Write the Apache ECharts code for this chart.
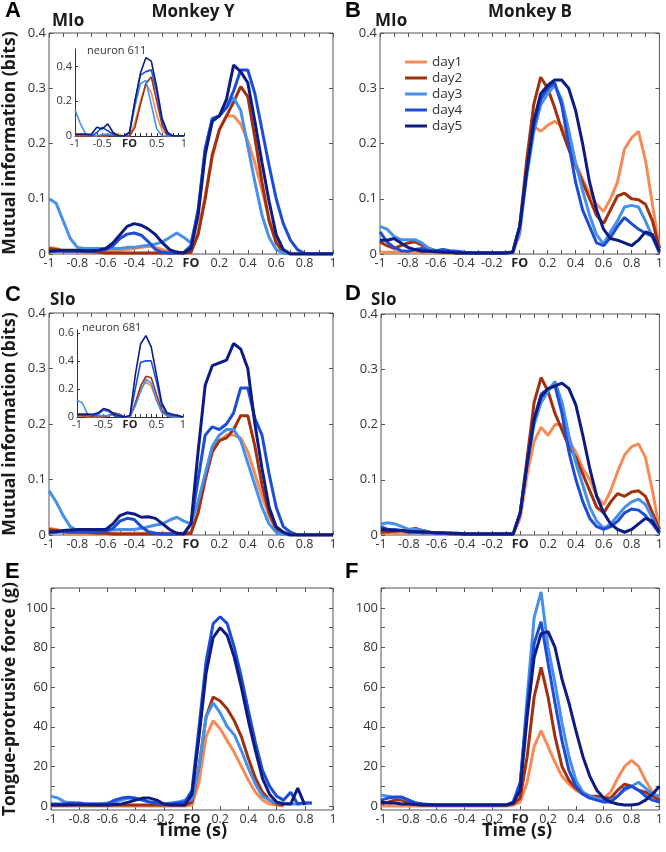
<!DOCTYPE html>
<html><head><meta charset="utf-8">
<script src="https://cdn.jsdelivr.net/npm/echarts@6/dist/echarts.min.js"></script>
<style>html,body{margin:0;padding:0;background:#fff;}#c{width:666px;height:852px;}</style>
</head><body><div id="c"></div>
<script>
// ---- time axes ----
const T = [-1,-0.95,-0.9,-0.85,-0.8,-0.75,-0.7,-0.65,-0.6,-0.55,-0.5,-0.45,-0.4,-0.35,-0.3,-0.25,-0.2,-0.15,-0.1,-0.05,0,0.05,0.1,0.15,0.2,0.25,0.3,0.35,0.4,0.45,0.5,0.55,0.6,0.65,0.7,0.75,0.8,0.85,0.9,0.95,1];
const TI = [-1,-0.9,-0.8,-0.7,-0.6,-0.5,-0.4,-0.3,-0.2,-0.1,0,0.1,0.2,0.3,0.4,0.5,0.6,0.7,0.8,0.9,1];
const DAYS = ['day1','day2','day3','day4','day5'];
const X_TICK_LABELS = [-1,-0.8,-0.6,-0.4,-0.2,0,0.2,0.4,0.6,0.8,1];
const MI_TICK_LABELS = [0,0.1,0.2,0.3,0.4];
const FORCE_TICK_LABELS = [0,20,40,60,80,100];
const INSET_X_LABELS = [-1,-0.5,0,0.5,1];

// ---- Panel A: MIo, Monkey Y ----
const A_day1 = [0.012,0.01,0.006,0.004,0.004,0.004,0.004,0.004,0.005,0.006,0.007,0.008,0.01,0.012,0.014,0.012,0.008,0.004,0.002,0.002,0.006,0.04,0.105,0.175,0.225,0.25,0.25,0.235,0.205,0.165,0.115,0.065,0.025,0.006,0.001,0,0,0,0,0,0];
const A_day2 = [0.01,0.008,0.006,0.006,0.005,0.004,0.004,0.003,0.002,0.002,0.002,0.002,0.002,0.002,0.002,0.002,0.002,0.002,0.002,0.002,0.003,0.035,0.1,0.18,0.225,0.25,0.275,0.303,0.285,0.21,0.13,0.06,0.02,0.003,0,0,0,0,0,0,0];
const A_day3 = [0.1,0.092,0.06,0.028,0.012,0.01,0.01,0.01,0.01,0.01,0.01,0.012,0.012,0.014,0.016,0.018,0.022,0.03,0.038,0.03,0.02,0.075,0.19,0.245,0.25,0.265,0.283,0.26,0.195,0.13,0.07,0.03,0.008,0.002,0,0,0,0,0,0,0];
const A_day4 = [0.005,0.005,0.005,0.005,0.005,0.005,0.005,0.006,0.008,0.015,0.028,0.036,0.038,0.034,0.022,0.008,0.003,0.002,0.002,0.003,0.015,0.08,0.19,0.245,0.25,0.265,0.295,0.333,0.333,0.29,0.225,0.16,0.1,0.055,0.025,0.008,0.001,0,0,0,0];
const A_day5 = [0.005,0.006,0.007,0.007,0.007,0.006,0.006,0.007,0.01,0.02,0.035,0.05,0.055,0.052,0.045,0.035,0.02,0.008,0.003,0.002,0.01,0.07,0.18,0.24,0.25,0.28,0.342,0.33,0.31,0.24,0.165,0.095,0.035,0.008,0,0,0,0,0,0,0];
// ---- Panel B: MIo, Monkey B ----
const B_day1 = [0.003,0.003,0.003,0.003,0.003,0.003,0.003,0.003,0.003,0.002,0.002,0.002,0.002,0.002,0.002,0.002,0.002,0.002,0.002,0.003,0.035,0.15,0.232,0.222,0.233,0.24,0.232,0.2,0.165,0.135,0.11,0.09,0.077,0.1,0.13,0.19,0.21,0.222,0.17,0.09,0.01];
const B_day2 = [0.022,0.015,0.01,0.015,0.02,0.022,0.016,0.01,0.006,0.004,0.003,0.002,0.002,0.002,0.002,0.002,0.002,0.002,0.002,0.004,0.05,0.17,0.27,0.32,0.3,0.265,0.225,0.19,0.16,0.13,0.1,0.07,0.055,0.08,0.105,0.11,0.1,0.098,0.09,0.06,0.01];
const B_day3 = [0.05,0.045,0.032,0.026,0.026,0.026,0.02,0.01,0.006,0.005,0.004,0.003,0.002,0.002,0.002,0.002,0.002,0.002,0.002,0.003,0.04,0.14,0.22,0.27,0.29,0.305,0.28,0.225,0.165,0.115,0.07,0.035,0.018,0.04,0.06,0.085,0.088,0.085,0.06,0.03,0.005];
const B_day4 = [0.04,0.022,0.012,0.006,0.005,0.008,0.01,0.006,0.006,0.008,0.006,0.005,0.003,0.002,0.002,0.002,0.002,0.002,0.002,0.003,0.05,0.15,0.23,0.28,0.3,0.31,0.27,0.2,0.13,0.08,0.05,0.02,0.015,0.03,0.05,0.066,0.055,0.045,0.038,0.032,0.002];
const B_day5 = [0.025,0.025,0.028,0.02,0.012,0.008,0.005,0.005,0.004,0.003,0.003,0.002,0.002,0.002,0.002,0.002,0.002,0.002,0.002,0.003,0.05,0.15,0.24,0.29,0.305,0.315,0.315,0.3,0.26,0.2,0.13,0.08,0.045,0.028,0.025,0.02,0.015,0.025,0.04,0.035,0.005];
// ---- Panel C: SIo, Monkey Y ----
const C_day1 = [0.012,0.01,0.006,0.004,0.003,0.003,0.003,0.003,0.003,0.003,0.003,0.003,0.003,0.003,0.003,0.003,0.003,0.003,0.003,0.003,0.005,0.04,0.1,0.15,0.17,0.18,0.18,0.175,0.15,0.11,0.07,0.035,0.01,0.002,0,0,0,0,0,0,0];
const C_day2 = [0.01,0.008,0.006,0.005,0.005,0.005,0.004,0.003,0.003,0.002,0.002,0.002,0.002,0.002,0.002,0.002,0.002,0.002,0.002,0.002,0.003,0.04,0.1,0.15,0.17,0.175,0.19,0.215,0.215,0.16,0.09,0.04,0.01,0.002,0,0,0,0,0,0,0];
const C_day3 = [0.08,0.06,0.035,0.015,0.008,0.008,0.008,0.008,0.008,0.009,0.01,0.01,0.01,0.012,0.015,0.018,0.02,0.027,0.032,0.025,0.02,0.06,0.11,0.16,0.18,0.19,0.19,0.17,0.13,0.09,0.05,0.02,0.005,0.001,0,0,0,0,0,0,0];
const C_day4 = [0.005,0.005,0.006,0.006,0.006,0.006,0.006,0.006,0.007,0.012,0.025,0.03,0.028,0.015,0.006,0.003,0.002,0.002,0.002,0.003,0.02,0.1,0.18,0.195,0.19,0.2,0.22,0.265,0.265,0.21,0.18,0.11,0.05,0.015,0.005,0,0,0,0,0,0];
const C_day5 = [0.005,0.006,0.008,0.009,0.01,0.01,0.01,0.01,0.01,0.02,0.035,0.04,0.038,0.032,0.033,0.03,0.02,0.01,0.003,0.002,0.02,0.15,0.27,0.305,0.31,0.315,0.345,0.335,0.3,0.2,0.12,0.05,0.015,0.005,0,0,0,0,0,0,0];
// ---- Panel D: SIo, Monkey B ----
const D_day1 = [0.003,0.003,0.003,0.003,0.004,0.005,0.004,0.003,0.003,0.002,0.002,0.002,0.002,0.002,0.002,0.002,0.002,0.002,0.002,0.002,0.03,0.11,0.17,0.195,0.18,0.2,0.2,0.17,0.15,0.12,0.1,0.07,0.055,0.08,0.115,0.145,0.16,0.165,0.14,0.08,0.01];
const D_day2 = [0.005,0.006,0.007,0.008,0.01,0.012,0.008,0.005,0.004,0.003,0.002,0.002,0.002,0.002,0.002,0.002,0.002,0.002,0.002,0.002,0.04,0.14,0.24,0.285,0.26,0.22,0.19,0.16,0.14,0.11,0.08,0.05,0.04,0.06,0.075,0.07,0.078,0.08,0.07,0.04,0.01];
const D_day3 = [0.02,0.022,0.02,0.015,0.01,0.01,0.008,0.005,0.004,0.003,0.003,0.003,0.002,0.002,0.002,0.002,0.002,0.002,0.002,0.002,0.04,0.13,0.2,0.24,0.26,0.278,0.24,0.18,0.13,0.09,0.05,0.025,0.012,0.02,0.035,0.05,0.06,0.065,0.055,0.03,0.005];
const D_day4 = [0.015,0.01,0.01,0.008,0.005,0.005,0.004,0.004,0.003,0.003,0.003,0.002,0.002,0.002,0.002,0.002,0.002,0.002,0.002,0.002,0.04,0.13,0.21,0.255,0.265,0.27,0.22,0.15,0.1,0.06,0.03,0.015,0.01,0.015,0.025,0.04,0.047,0.045,0.035,0.02,0.003];
const D_day5 = [0.01,0.009,0.008,0.008,0.007,0.006,0.006,0.005,0.004,0.004,0.003,0.003,0.002,0.002,0.002,0.002,0.002,0.002,0.002,0.002,0.04,0.13,0.21,0.25,0.265,0.27,0.275,0.265,0.235,0.18,0.12,0.07,0.04,0.02,0.01,0.005,0.01,0.02,0.03,0.025,0.005];
// ---- Panel E: force, Monkey Y (null = no sample) ----
const E_day1 = [0,0,0,0,0,0,0,0,0,0,0,0,0,0,0,0,0,0,0,0,0.5,12,35,43,39,33,27,20,13,7,3,1,0.5,0,null,null,null,null,null,null,null];
const E_day2 = [0.5,0.5,0.5,0.8,1,0.8,0.5,0.5,0.5,0.5,0.5,0.5,0.5,0.5,0.5,0.5,0.5,0.5,0.5,0.5,2,20,45,55,53,49,43,35,24,14,7,3,1,0.5,null,null,null,null,null,null,null];
const E_day3 = [5,4,2,1.5,1,1,1,1,1.5,2,3,4,3.5,3,2,1.5,1,1.5,2,3,3,20,45,52,47,40,36,28,19,11,5,3,1.5,1.5,1,1,1.5,1.5,null,null,null];
const E_day4 = [1,1,1,1.5,1.5,1,1,1,1,3,4,4.5,4,3,2,1.5,1,1,1.5,2,8,40,73,92,95.5,92,80,65,48,32,18,10,5,3,7,1,1.5,1.5,null,null,null];
const E_day5 = [0.5,0.5,0.5,0.5,0.5,0.5,0.5,0.5,0.5,0.8,1,2,3,4,4,3,1,0.5,0.5,0.5,6,35,67,85,90,86,75,60,43,28,14,6,2,1,1,9,0.5,null,null,null,null];
// ---- Panel F: force, Monkey B ----
const F_day1 = [0,0,0,0,0,0,0,0,0,0,0,0,0,0,0,0,0,0,0,0.5,2,12,30,38,30,22,15,11,8,6,5,4,4,7,14,20,23,20,13,7,4];
const F_day2 = [1,2,3,3,1.5,0.8,0.5,0.5,0.5,0.5,0.5,0.5,0.5,0.5,0.5,0.5,0.5,0.5,0.5,1,4,25,55,70,55,35,20,13,9,6,5,5,4,4,8,11,10,8,7,5,3];
const F_day3 = [5.5,5,4.5,4,3,1.5,1,0.8,0.5,0.5,0.5,0.5,0.5,0.5,0.5,0.5,0.5,0.5,0.5,2,10,55,95,108,80,62,42,25,13,7,5,4,3,3,5,8,10,12,9,6,5];
const F_day4 = [3,4,4.5,4.5,3,1.5,1,0.8,0.5,0.5,0.5,0.5,0.5,0.5,0.5,0.5,0.5,0.5,0.5,2,12,50,82,93,72,52,33,18,10,6,4,3,2,2,5,9,10,8,5,3,2];
const F_day5 = [2,1.5,1.5,1,1,0.8,0.5,0.5,0.5,0.5,0.5,0.5,0.5,0.5,0.5,0.5,0.5,0.5,0.5,1.5,8,45,75,87,88,80,64,52,38,25,15,8,4,2,1,0.5,0.5,1,3,6,10];
// ---- Inset A: neuron 611 ----
const IA_day1 = [0,0,0,0,0,0,0,0.01,0.01,0,0,0.08,0.2,0.3,0.25,0.12,0.03,0,0,0,0];
const IA_day2 = [0,0,0,0,0,0,0,0,0,0,0,0.05,0.18,0.3,0.34,0.2,0.06,0,0,0,0];
const IA_day3 = [0.15,0.07,0.01,0,0,0.01,0.01,0.01,0,0,0.02,0.17,0.3,0.32,0.18,0.04,0,0,0,0,0];
const IA_day4 = [0.01,0.01,0.01,0,0.02,0.05,0.03,0.01,0,0,0.02,0.2,0.35,0.37,0.38,0.25,0.08,0.01,0,0,0];
const IA_day5 = [0.01,0.01,0.01,0.01,0.05,0.04,0.07,0.02,0,0,0.02,0.2,0.36,0.45,0.43,0.28,0.1,0.02,0,0,0];
// ---- Inset C: neuron 681 ----
const IC_day1 = [0.01,0.01,0,0,0,0,0.01,0.02,0.02,0,0,0.08,0.2,0.25,0.22,0.12,0.04,0.01,0,0,0];
const IC_day2 = [0.01,0.01,0.01,0,0,0,0.01,0.03,0.02,0,0,0.1,0.22,0.29,0.28,0.16,0.05,0.01,0,0,0];
const IC_day3 = [0.12,0.1,0.02,0.01,0.01,0.01,0.01,0.02,0.02,0,0,0.08,0.18,0.27,0.24,0.12,0.03,0.01,0,0,0];
const IC_day4 = [0.02,0.02,0.02,0.01,0.02,0.05,0.04,0.01,0,0,0.01,0.2,0.39,0.4,0.4,0.25,0.08,0.02,0.01,0.01,0];
const IC_day5 = [0.02,0.02,0.02,0.02,0.03,0.06,0.05,0.02,0.01,0,0.01,0.3,0.52,0.58,0.5,0.3,0.1,0.03,0.02,0.01,0];

const COLORS = ['#F58C58','#A2300F','#4690EA','#1D4DD8','#0C1C82'];
const FONT = 'Open Sans';

const PANELS = [
  {grid:{left:49,top:33,width:284,height:221}, data:[A_day1,A_day2,A_day3,A_day4,A_day5], ymin:0, ymax:0.4, yl:MI_TICK_LABELS, yt:[0,0.1,0.2,0.3,0.4], xt:0.1},
  {grid:{left:380,top:33,width:280,height:221}, data:[B_day1,B_day2,B_day3,B_day4,B_day5], ymin:0, ymax:0.4, yl:MI_TICK_LABELS, yt:[0,0.1,0.2,0.3,0.4], xt:0.1},
  {grid:{left:49,top:313,width:284,height:222}, data:[C_day1,C_day2,C_day3,C_day4,C_day5], ymin:0, ymax:0.4, yl:MI_TICK_LABELS, yt:[0,0.1,0.2,0.3,0.4], xt:0.1},
  {grid:{left:381,top:314,width:280,height:221}, data:[D_day1,D_day2,D_day3,D_day4,D_day5], ymin:0, ymax:0.4, yl:MI_TICK_LABELS, yt:[0,0.1,0.2,0.3,0.4], xt:0.1},
  {grid:{left:51,top:588,width:282,height:222}, data:[E_day1,E_day2,E_day3,E_day4,E_day5], ymin:-2, ymax:110, yl:FORCE_TICK_LABELS, yt:[0,10,20,30,40,50,60,70,80,90,100,110], xt:0.2},
  {grid:{left:381,top:588,width:280,height:222}, data:[F_day1,F_day2,F_day3,F_day4,F_day5], ymin:-2, ymax:110, yl:FORCE_TICK_LABELS, yt:[0,10,20,30,40,50,60,70,80,90,100,110], xt:0.2}
];
const INSETS = [
  {grid:{left:75,top:49,width:109,height:87}, data:[IA_day1,IA_day2,IA_day3,IA_day4,IA_day5], ymax:0.5, yl:[0,0.2,0.4]},
  {grid:{left:77,top:330,width:106,height:87}, data:[IC_day1,IC_day2,IC_day3,IC_day4,IC_day5], ymax:0.62, yl:[0,0.2,0.4,0.6]}
];

function seq(a, b, step) { const out = []; const n = Math.round((b - a) / step); for (let i = 0; i <= n; i++) out.push(Math.round((a + i * step) * 1000) / 1000); return out; }
function fmtX(v) { if (Math.abs(v) < 1e-9) return '{fo|FO}'; return String(Math.round(v * 10) / 10); }
function fmtY(v) { if (Math.abs(v) < 1e-9) return '0'; return (Math.abs(v) >= 10) ? String(Math.round(v)) : String(Math.round(v * 10) / 10); }
function pairs(xs, ys) { const out = []; xs.forEach((x, i) => { if (ys[i] !== null && ys[i] !== undefined) out.push([x, ys[i]]); }); return out; }

const grids = [], xAxes = [], yAxes = [], series = [];
const frameColor = '#555';
PANELS.forEach((p, i) => {
  grids.push(Object.assign({show:true, borderColor:frameColor, borderWidth:1, backgroundColor:'transparent'}, p.grid));
  const gi = grids.length - 1;
  const xt = seq(-1, 1, p.xt);
  xAxes.push({type:'value', gridIndex:gi, min:-1, max:1, position:'bottom',
    axisLine:{show:false, onZero:false}, splitLine:{show:false},
    axisTick:{show:true, inside:true, length:4, customValues:xt, lineStyle:{color:frameColor}},
    axisLabel:{show:true, customValues:X_TICK_LABELS, formatter:fmtX, margin:3, fontSize:12.5, fontFamily:FONT, color:'#333',
      showMinLabel:true, showMaxLabel:true, rich:{fo:{fontWeight:'bold', fontSize:12.5, fontFamily:FONT, color:'#222'}}}});
  const xb = xAxes.length - 1;
  xAxes.push({type:'value', gridIndex:gi, min:-1, max:1, position:'top',
    axisLine:{show:false, onZero:false}, splitLine:{show:false}, axisLabel:{show:false},
    axisTick:{show:true, inside:true, length:4, customValues:xt, lineStyle:{color:frameColor}}});
  yAxes.push({type:'value', gridIndex:gi, min:p.ymin, max:p.ymax, position:'left',
    axisLine:{show:false, onZero:false}, splitLine:{show:false},
    axisTick:{show:true, inside:true, length:4, customValues:p.yt, lineStyle:{color:frameColor}},
    axisLabel:{show:true, customValues:p.yl, formatter:fmtY, margin:3, fontSize:13, fontFamily:FONT, color:'#333', showMinLabel:true, showMaxLabel:true}});
  const yl = yAxes.length - 1;
  yAxes.push({type:'value', gridIndex:gi, min:p.ymin, max:p.ymax, position:'right',
    axisLine:{show:false, onZero:false}, splitLine:{show:false}, axisLabel:{show:false},
    axisTick:{show:true, inside:true, length:4, customValues:p.yt, lineStyle:{color:frameColor}}});
  p.data.forEach((arr, d) => {
    series.push({type:'line', name:DAYS[d], xAxisIndex:xb, yAxisIndex:yl, data:pairs(T, arr),
      showSymbol:false, symbol:'none', lineStyle:{width:3, color:COLORS[d]}, itemStyle:{color:COLORS[d]}, z:2+d, silent:true});
  });
});
INSETS.forEach((p) => {
  grids.push(Object.assign({show:false}, p.grid));
  const gi = grids.length - 1;
  xAxes.push({type:'value', gridIndex:gi, min:-1, max:1, position:'bottom',
    axisLine:{show:true, onZero:false, lineStyle:{color:'#333', width:1}}, splitLine:{show:false},
    axisTick:{show:true, inside:true, length:3, customValues:seq(-1, 1, 0.1), lineStyle:{color:'#333'}},
    axisLabel:{show:true, customValues:INSET_X_LABELS, formatter:fmtX, margin:2, fontSize:11, fontFamily:FONT, color:'#333',
      showMinLabel:true, showMaxLabel:true, rich:{fo:{fontWeight:'bold', fontSize:11, fontFamily:FONT, color:'#222'}}}});
  const xb = xAxes.length - 1;
  yAxes.push({type:'value', gridIndex:gi, min:0, max:p.ymax, position:'left',
    axisLine:{show:true, onZero:false, lineStyle:{color:'#333', width:1}}, splitLine:{show:false},
    axisTick:{show:true, inside:true, length:3, customValues:p.yl, lineStyle:{color:'#333'}},
    axisLabel:{show:true, customValues:p.yl, formatter:fmtY, margin:3, fontSize:11, fontFamily:FONT, color:'#333', showMinLabel:true, showMaxLabel:true}});
  const yl = yAxes.length - 1;
  p.data.forEach((arr, d) => {
    series.push({type:'line', name:DAYS[d], xAxisIndex:xb, yAxisIndex:yl, data:pairs(TI, arr),
      showSymbol:false, symbol:'none', lineStyle:{width:1.6, color:COLORS[d]}, itemStyle:{color:COLORS[d]}, z:10+d, silent:true});
  });
});

function txt(x, y, s, size, weight, opts) {
  opts = opts || {};
  return {type:'text', x:x, y:y, rotation:opts.rot || 0, z:100,
    style:{text:s, fontSize:size, fontWeight:weight, fontFamily:opts.family || FONT, fill:opts.fill || '#1a1a1a',
      align:opts.align || 'left', verticalAlign:'middle', textAlign:opts.align || 'left', textVerticalAlign:'middle'}};
}
const LETTER = 'Liberation Sans';
const graphics = [
  txt(5, 11, 'A', 22, 'bold', {family:LETTER, fill:'#000'}),
  txt(345, 11, 'B', 22, 'bold', {family:LETTER, fill:'#000'}),
  txt(5, 295, 'C', 22, 'bold', {family:LETTER, fill:'#000'}),
  txt(345, 294, 'D', 22, 'bold', {family:LETTER, fill:'#000'}),
  txt(5, 572, 'E', 22, 'bold', {family:LETTER, fill:'#000'}),
  txt(345, 572, 'F', 22, 'bold', {family:LETTER, fill:'#000'}),
  txt(52, 21, 'MIo', 17, 'bold'),
  txt(375, 21, 'MIo', 17, 'bold'),
  txt(50, 300, 'SIo', 17, 'bold'),
  txt(371, 300, 'SIo', 17, 'bold'),
  txt(193, 12, 'Monkey Y', 17, 'bold', {align:'center'}),
  txt(530, 12, 'Monkey B', 17, 'bold', {align:'center'}),
  txt(10, 143, 'Mutual information (bits)', 17.6, 'bold', {align:'center', rot:Math.PI/2}),
  txt(10, 424, 'Mutual information (bits)', 17.6, 'bold', {align:'center', rot:Math.PI/2}),
  txt(10, 699, 'Tongue-protrusive force (g)', 17.3, 'bold', {align:'center', rot:Math.PI/2}),
  txt(192, 831, 'Time (s)', 18, 'bold', {align:'center'}),
  txt(517, 831, 'Time (s)', 18, 'bold', {align:'center'}),
  txt(87, 51, 'neuron 611', 11, 'normal', {fill:'#333'}),
  txt(82, 328, 'neuron 681', 11, 'normal', {fill:'#333'})
];

const chart = echarts.init(document.getElementById('c'), null, {renderer:'canvas'});
chart.setOption({
  animation:false,
  backgroundColor:'#fff',
  grid:grids, xAxis:xAxes, yAxis:yAxes, series:series,
  legend:{show:true, data:DAYS, orient:'vertical', left:400, top:50, itemWidth:22, itemHeight:3, itemGap:2, icon:'rect',
    textStyle:{fontSize:13.5, fontFamily:FONT, color:'#333', lineHeight:14}, selectedMode:false},
  graphic:graphics
});
</script></body></html>
